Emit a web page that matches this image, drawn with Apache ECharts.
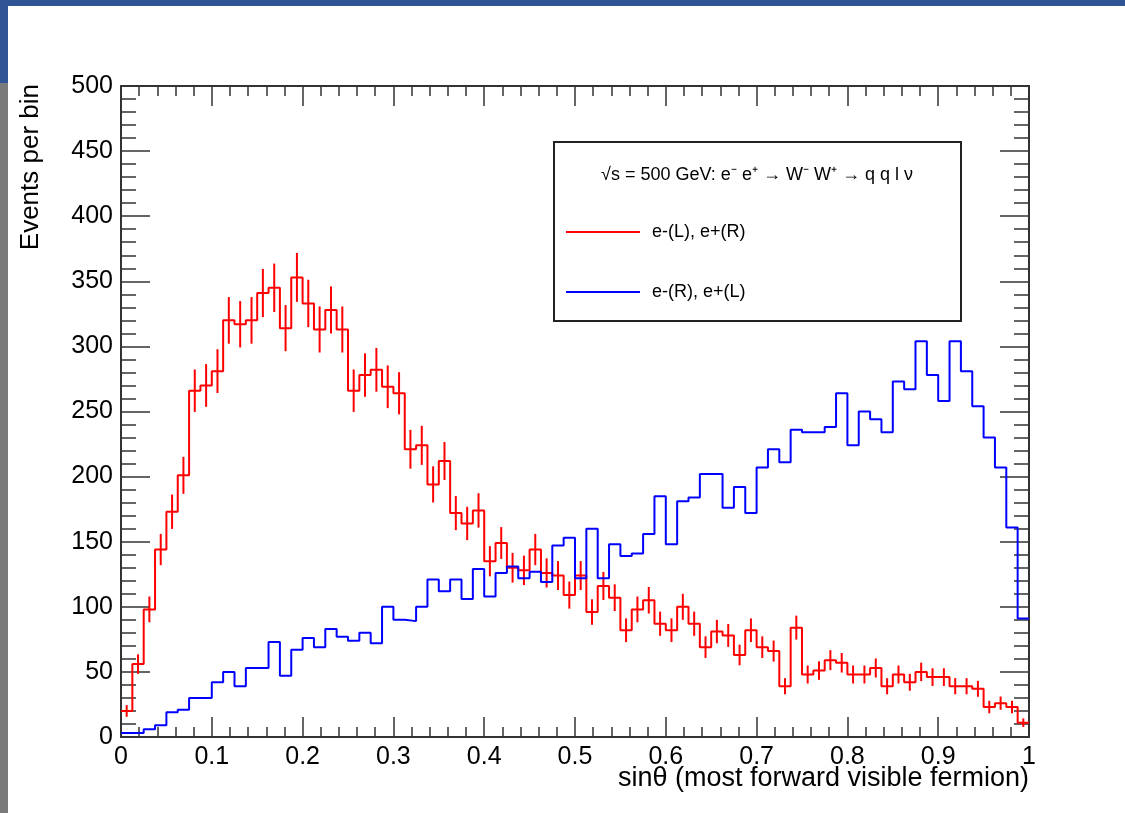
<!DOCTYPE html>
<html><head><meta charset="utf-8">
<script src="https://cdn.jsdelivr.net/npm/echarts@6/dist/echarts.min.js"></script>
<style>html,body{margin:0;padding:0;background:#fff;} #c{width:1125px;height:813px;}</style>
</head><body><div id="c"></div>
<script>
// Histogram binning: 80 bins on [0, 1]
const nBins = 80, xLow = 0, xHigh = 1;

// e-(L), e+(R) : red histogram with error bars
const redValues = [
  20, 56, 98, 144, 173, 201, 266, 270, 281, 320,
  317, 320, 341, 345, 314, 353, 333, 313, 328, 313,
  266, 278, 282, 269, 264, 221, 224, 194, 212, 172,
  164, 174, 135, 149, 130, 128, 144, 126, 124, 109,
  124, 96, 116, 107, 82, 98, 105, 87, 82, 100,
  87, 69, 81, 78, 63, 82, 69, 66, 39, 84,
  48, 51, 59, 57, 48, 48, 53, 39, 48, 42,
  50, 46, 46, 39, 39, 37, 23, 26, 23, 11
];
const redErrors = [
  4.5, 7.5, 9.9, 12, 13.2, 14.2, 16.3, 16.4, 16.8, 17.9,
  17.8, 17.9, 18.5, 18.6, 17.7, 18.8, 18.2, 17.7, 18.1, 17.7,
  16.3, 16.7, 16.8, 16.4, 16.2, 14.9, 15, 13.9, 14.6, 13.1,
  12.8, 13.2, 11.6, 12.2, 11.4, 11.3, 12, 11.2, 11.1, 10.4,
  11.1, 9.8, 10.8, 10.3, 9.1, 9.9, 10.2, 9.3, 9.1, 10,
  9.3, 8.3, 9, 8.8, 7.9, 9.1, 8.3, 8.1, 6.2, 9.2,
  6.9, 7.1, 7.7, 7.5, 6.9, 6.9, 7.3, 6.2, 6.9, 6.5,
  7.1, 6.8, 6.8, 6.2, 6.2, 6.1, 4.8, 5.1, 4.8, 3.3
];
// e-(R), e+(L) : blue histogram
const blueValues = [
  3, 3, 6, 9, 19, 21, 30, 30, 42, 50,
  39, 53, 53, 73, 47, 67, 76, 69, 83, 77,
  74, 80, 72, 100, 90, 89, 100, 121, 112, 121,
  106, 129, 108, 126, 131, 122, 127, 119, 147, 153,
  122, 160, 122, 148, 139, 141, 156, 185, 148, 181,
  184, 202, 202, 176, 192, 172, 207, 221, 211, 236,
  234, 234, 238, 264, 224, 250, 244, 234, 273, 267,
  304, 278, 258, 304, 281, 254, 230, 207, 161, 91
];

const legendTitle = '√s = 500 GeV: e⁻ e⁺ → W⁻ W⁺ → q q l ν';
const redLabel = 'e-(L), e+(R)';
const blueLabel = 'e-(R), e+(L)';
const xTitle = 'sinθ (most forward visible fermion)';
const yTitle = 'Events per bin';

const binW = (xHigh - xLow) / nBins;
function stepData(vals) {
  const d = vals.map((v, i) => [xLow + i * binW, v]);
  d.push([xHigh, vals[vals.length - 1]]);
  return d;
}
const errData = redValues.map((v, i) => [xLow + (i + 0.5) * binW, v, redErrors[i]]);

const axisCol = '#333';
const FONT = '"Liberation Sans", Arial, Helvetica, sans-serif';

function xAxisDef(pos, showLabel) {
  return {
    type: 'value', min: 0, max: 1, interval: 0.1, position: pos,
    axisLine: { show: true, onZero: false, lineStyle: { color: axisCol, width: 2 } },
    axisTick: { show: true, inside: true, length: 20, lineStyle: { color: axisCol, width: 1.5 } },
    minorTick: { show: true, splitNumber: 5, length: 10, lineStyle: { color: axisCol, width: 1.5 } },
    axisLabel: { show: showLabel, color: '#000', fontSize: 25, fontFamily: FONT, margin: 8,
                 showMinLabel: true, showMaxLabel: true },
    splitLine: { show: false }, minorSplitLine: { show: false }
  };
}
function yAxisDef(pos, showLabel) {
  return {
    type: 'value', min: 0, max: 500, interval: 50, position: pos,
    axisLine: { show: true, onZero: false, lineStyle: { color: axisCol, width: 2 } },
    axisTick: { show: true, inside: true, length: 29, lineStyle: { color: axisCol, width: 1.5 } },
    minorTick: { show: true, splitNumber: 5, length: 15, lineStyle: { color: axisCol, width: 1.5 } },
    axisLabel: { show: showLabel, color: '#000', fontSize: 25, fontFamily: FONT, margin: 8,
                 showMinLabel: true, showMaxLabel: true },
    splitLine: { show: false }, minorSplitLine: { show: false }
  };
}

const chart = echarts.init(document.getElementById('c'), null, { renderer: 'canvas' });
chart.setOption({
  animation: false,
  backgroundColor: '#fff',
  grid: { left: 121, top: 86, right: 96, bottom: 76, show: false },
  xAxis: [xAxisDef('bottom', true), xAxisDef('top', false)],
  yAxis: [yAxisDef('left', true), yAxisDef('right', false)],
  series: [
    {
      type: 'line', name: redLabel, step: 'end', data: stepData(redValues),
      xAxisIndex: 0, yAxisIndex: 0, showSymbol: false, symbol: 'none',
      lineStyle: { color: '#ff0000', width: 2 }, z: 3
    },
    {
      type: 'custom', name: redLabel + ' err', data: errData,
      xAxisIndex: 0, yAxisIndex: 0, encode: { x: 0, y: 1 }, z: 3,
      renderItem: function (params, api) {
        const x = api.value(0), y = api.value(1), e = api.value(2);
        const p1 = api.coord([x, Math.max(0, y - e)]);
        const p2 = api.coord([x, y + e]);
        return { type: 'line', shape: { x1: p1[0], y1: p1[1], x2: p2[0], y2: p2[1] },
                 style: { stroke: '#ff0000', lineWidth: 2 } };
      }
    },
    {
      type: 'line', name: blueLabel, step: 'end', data: stepData(blueValues),
      xAxisIndex: 0, yAxisIndex: 0, showSymbol: false, symbol: 'none',
      lineStyle: { color: '#0000ff', width: 2 }, z: 4
    }
  ],
  graphic: [
    { type: 'rect', shape: { x: 0, y: 0, width: 1125, height: 6 }, style: { fill: '#2f5597' }, z: 200 },
    { type: 'rect', shape: { x: 0, y: 0, width: 8, height: 83 }, style: { fill: '#2f5597' }, z: 200 },
    { type: 'rect', shape: { x: 0, y: 83, width: 8, height: 730 }, style: { fill: '#7a7a7a' }, z: 200 },
    { type: 'text', x: 31, y: 84, rotation: Math.PI / 2, z: 100,
      style: { text: yTitle, font: '26px ' + FONT, fill: '#000', align: 'right', verticalAlign: 'middle' } },
    { type: 'text', x: 1029, y: 779, z: 100,
      style: { text: xTitle, font: '27px ' + FONT, fill: '#000', align: 'right', verticalAlign: 'middle' } },
    { type: 'rect', shape: { x: 554, y: 142, width: 407, height: 179 }, z: 100,
      style: { fill: '#fff', stroke: '#222', lineWidth: 2 } },
    { type: 'text', x: 757, y: 175, z: 101,
      style: { text: legendTitle, font: '18px ' + FONT, fill: '#000', align: 'center', verticalAlign: 'middle' } },
    { type: 'line', shape: { x1: 566, y1: 232, x2: 640, y2: 232 }, z: 101,
      style: { stroke: '#ff0000', lineWidth: 2 } },
    { type: 'text', x: 652, y: 232, z: 101,
      style: { text: redLabel, font: '18px ' + FONT, fill: '#000', align: 'left', verticalAlign: 'middle' } },
    { type: 'line', shape: { x1: 566, y1: 292, x2: 640, y2: 292 }, z: 101,
      style: { stroke: '#0000ff', lineWidth: 2 } },
    { type: 'text', x: 652, y: 292, z: 101,
      style: { text: blueLabel, font: '18px ' + FONT, fill: '#000', align: 'left', verticalAlign: 'middle' } }
  ]
});
</script>
</body></html>
